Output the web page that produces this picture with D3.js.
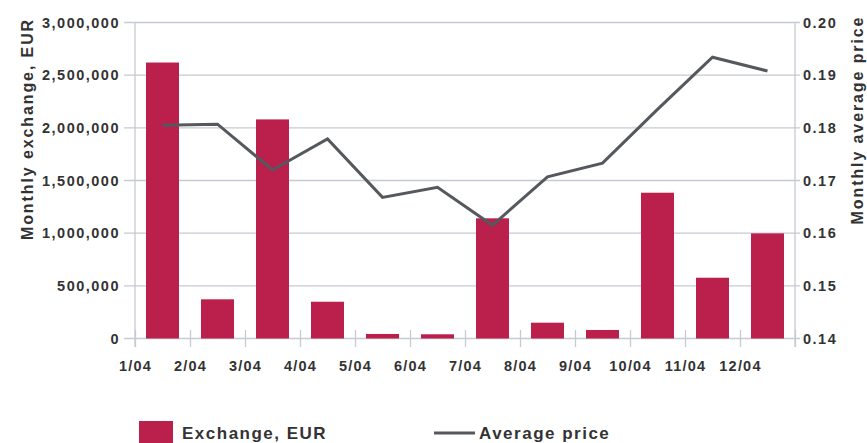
<!DOCTYPE html>
<html>
<head>
<meta charset="utf-8">
<script src="https://cdn.jsdelivr.net/npm/d3@7"></script>
<style>
  html, body { margin: 0; padding: 0; background: #fff; }
  svg { display: block; }
  text { font-family: "Liberation Sans", Arial, Helvetica, sans-serif; font-weight: bold; fill: #333; }
</style>
</head>
<body>
<svg id="chart" width="867" height="443"></svg>
<script>
const months = ["1/04","2/04","3/04","4/04","5/04","6/04","7/04","8/04","9/04","10/04","11/04","12/04"];
const exchange = [2620000, 372000, 2080000, 349000, 43000, 40000, 1141000, 150000, 81000, 1384000, 577000, 998000];
const price = [0.1805, 0.1807, 0.1720, 0.1779, 0.1668, 0.1687, 0.1615, 0.1707, 0.1733, 0.1835, 0.1934, 0.1908];
const leftTicks = [0, 500000, 1000000, 1500000, 2000000, 2500000, 3000000];
const rightTicks = [0.14, 0.15, 0.16, 0.17, 0.18, 0.19, 0.20];
const leftTitle = "Monthly exchange, EUR";
const rightTitle = "Monthly average price";
const legendBar = "Exchange, EUR";
const legendLine = "Average price";

const barColor = "#bb1f4b";
const lineColor = "#55595d";
const gridColor = "#c6cad3";

const svg = d3.select("#chart");
const L = 135, R = 795, T = 22.5, B = 338.5;

const x = d3.scaleBand().domain(months).range([L, R]).paddingInner(0.4).paddingOuter(0.2);
const xEdge = d3.scaleLinear().domain([0, months.length]).range([L, R]);
const yL = d3.scaleLinear().domain([0, 3000000]).range([B, T]);
const yR = d3.scaleLinear().domain([0.14, 0.20]).range([B, T]);

// gridlines
svg.append("g").selectAll("line").data(leftTicks).join("line")
  .attr("x1", L - 11).attr("x2", R + 5)
  .attr("y1", d => yL(d)).attr("y2", d => yL(d))
  .attr("stroke", gridColor).attr("stroke-width", 1.3);

// vertical axis lines
svg.append("line").attr("x1", L).attr("x2", L).attr("y1", T).attr("y2", B + 8.5)
  .attr("stroke", gridColor).attr("stroke-width", 1.3);
svg.append("line").attr("x1", R).attr("x2", R).attr("y1", T).attr("y2", B + 8.5)
  .attr("stroke", gridColor).attr("stroke-width", 1.3);

// bars
svg.append("g").selectAll("rect").data(exchange).join("rect")
  .attr("x", (d, i) => x(months[i]))
  .attr("width", x.bandwidth())
  .attr("y", d => yL(d))
  .attr("height", d => yL(0) - yL(d))
  .attr("fill", barColor);

// line
const line = d3.line()
  .x((d, i) => x(months[i]) + x.bandwidth() / 2)
  .y(d => yR(d));
svg.append("path").datum(price)
  .attr("d", line)
  .attr("fill", "none")
  .attr("stroke", lineColor)
  .attr("stroke-width", 3)
  .attr("stroke-linejoin", "miter");

// left axis
const gL = svg.append("g").attr("transform", `translate(${L},0)`)
  .call(d3.axisLeft(yL).tickValues(leftTicks).tickFormat(d3.format(",")).tickSize(0).tickPadding(16));
gL.select(".domain").remove();
gL.selectAll("text").attr("font-size", 14.5).attr("letter-spacing", 1.5)
  .attr("fill", "#333").attr("font-family", null).attr("x", -15);

// right axis
const gR = svg.append("g").attr("transform", `translate(${R},0)`)
  .call(d3.axisRight(yR).tickValues(rightTicks).tickFormat(d3.format(".2f")).tickSize(0).tickPadding(8));
gR.select(".domain").remove();
gR.selectAll("text").attr("font-size", 14.5).attr("letter-spacing", 1.5)
  .attr("fill", "#333").attr("font-family", null);

// bottom axis (ticks at month boundaries)
const gB = svg.append("g").attr("transform", `translate(0,${B})`)
  .call(d3.axisBottom(xEdge).tickValues(d3.range(months.length + 1)).tickFormat(i => months[i] || "").tickSize(8.5));
gB.select(".domain").remove();
gB.selectAll(".tick line").attr("y1", -8.5).attr("stroke", gridColor).attr("stroke-width", 1.3);
gB.selectAll("text").attr("font-size", 14.5).attr("letter-spacing", 1.2)
  .attr("fill", "#333").attr("font-family", null)
  .attr("dy", null).attr("y", 32);

// axis titles
svg.append("text").attr("transform", `translate(33,129) rotate(-90)`)
  .attr("text-anchor", "middle").attr("font-size", 16).attr("letter-spacing", 1.9)
  .text(leftTitle);
svg.append("text").attr("transform", `translate(863,120) rotate(-90)`)
  .attr("text-anchor", "middle").attr("font-size", 16).attr("letter-spacing", 1.9)
  .text(rightTitle);

// legend
svg.append("rect").attr("x", 139).attr("y", 421).attr("width", 34).attr("height", 26).attr("fill", barColor);
svg.append("text").attr("x", 182).attr("y", 439).attr("font-size", 17).attr("letter-spacing", 1.5).text(legendBar);
svg.append("line").attr("x1", 434).attr("x2", 475).attr("y1", 433).attr("y2", 433)
  .attr("stroke", lineColor).attr("stroke-width", 3);
svg.append("text").attr("x", 479).attr("y", 439).attr("font-size", 17).attr("letter-spacing", 1.5).text(legendLine);
</script>
</body>
</html>
